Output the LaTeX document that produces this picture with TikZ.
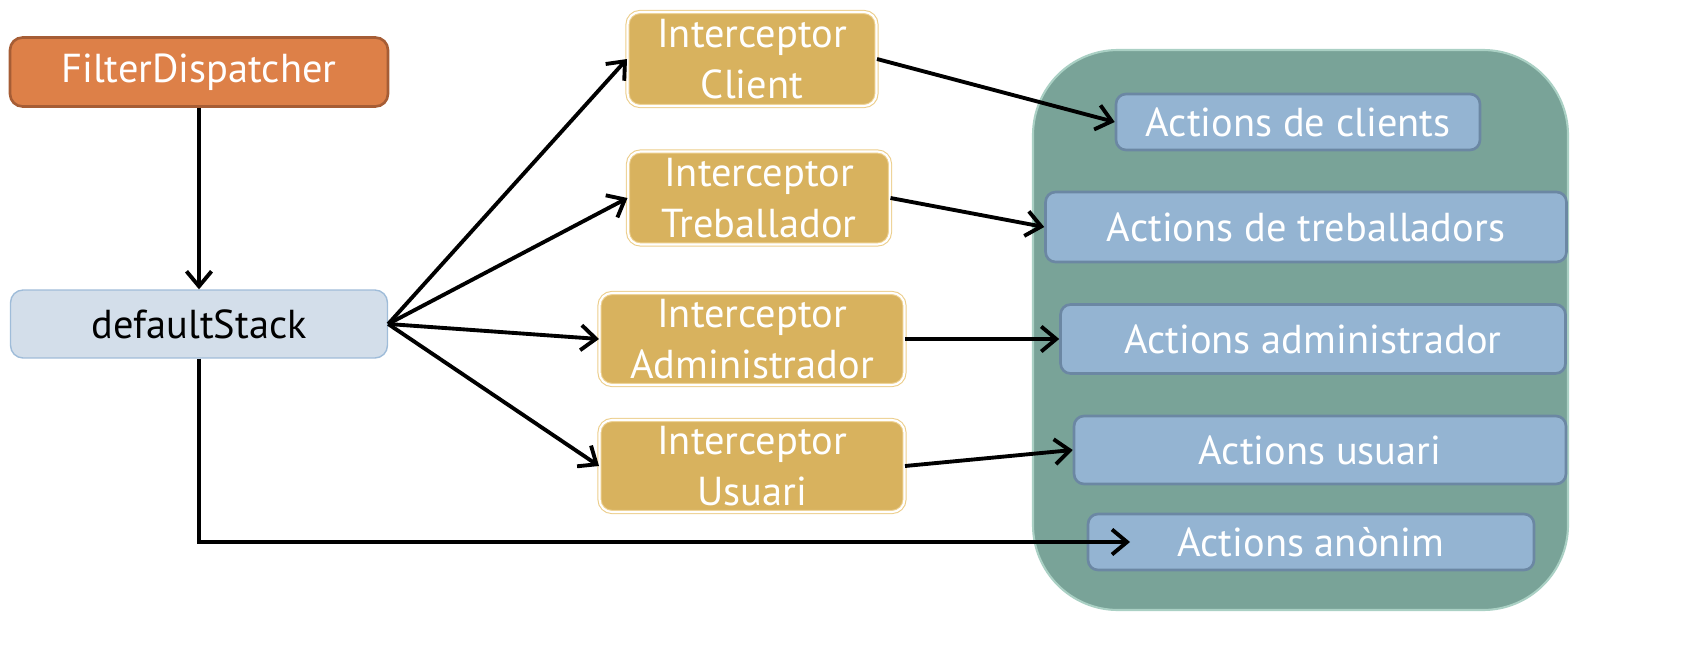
\documentclass[tikz,border=0pt]{standalone}
\usepackage{fontspec}
\setmainfont{PT Sans}
\usetikzlibrary{arrows.meta}
\definecolor{filterfill}{RGB}{221,128,72}
\definecolor{filterline}{RGB}{166,93,53}
\definecolor{stackfill}{RGB}{211,222,234}
\definecolor{stackline}{RGB}{159,188,217}
\definecolor{interfill}{RGB}{216,178,94}
\definecolor{interline}{RGB}{236,206,140}
\definecolor{actionfill}{RGB}{148,180,210}
\definecolor{actionline}{RGB}{107,135,163}
\definecolor{panelfill}{RGB}{121,163,152}
\definecolor{panelline}{RGB}{170,208,196}
\tikzset{
  filterbox/.style={rounded corners=0.25cm, fill=filterfill, draw=filterline, line width=1.5pt,
    text=white, inner sep=0pt},
  stackbox/.style={rounded corners=0.25cm, fill=stackfill, draw=stackline, line width=0.8pt,
    text=black, inner sep=0pt},
  interbox/.style={rounded corners=0.25cm, fill=interfill, draw=interline, double=white,
    double distance=1.2pt, line width=0.6pt, text=white, inner sep=0pt, align=center,
    font=\fontsize{23}{29}\selectfont},
  actionbox/.style={rounded corners=0.2cm, fill=actionfill, draw=actionline, line width=1.5pt,
    text=white, inner sep=0pt},
  flow/.style={-{Straight Barb[length=0.3cm,width=0.5cm]}, line width=2.2pt, black}
}
\begin{document}
\begin{tikzpicture}[x=0.02cm, y=-0.02cm, font=\fontsize{23}{28}\selectfont]
\useasboundingbox (0,0) rectangle (1695,659);
% container of the actions
\draw[fill=panelfill, draw=panelline, line width=1.2pt, rounded corners=1.7cm] (1033,50) rectangle (1568,610);
% filter and stack
\node[filterbox, minimum width=7.56cm, minimum height=1.38cm] (fd) at (199,72) {FilterDispatcher};
\node[stackbox, minimum width=7.54cm, minimum height=1.36cm] (ds) at (199,324) {defaultStack};
% interceptors
\node[interbox, minimum width=4.98cm, minimum height=1.88cm] (ic) at (752,59) {Interceptor\\Client};
\node[interbox, minimum width=5.24cm, minimum height=1.86cm] (it) at (759,198) {Interceptor\\Treballador};
\node[interbox, minimum width=6.1cm, minimum height=1.84cm] (ia) at (752,339) {Interceptor\\Administrador};
\node[interbox, minimum width=6.1cm, minimum height=1.84cm] (iu) at (752,466) {Interceptor\\Usuari};
% actions
\node[actionbox, minimum width=7.28cm, minimum height=1.12cm] (ac) at (1298,122) {Actions de clients};
\node[actionbox, minimum width=10.42cm, minimum height=1.4cm] (at) at (1306,227) {Actions de treballadors};
\node[actionbox, minimum width=10.1cm, minimum height=1.38cm] (aa) at (1313,339) {Actions administrador};
\node[actionbox, minimum width=9.84cm, minimum height=1.36cm] (au) at (1320,450) {Actions usuari};
\node[actionbox, minimum width=8.92cm, minimum height=1.12cm] (an) at (1311,542) {Actions anònim};
\coordinate (anend) at (1130,542);
% arrows
\draw[flow] (fd.south) -- (ds.north);
\draw[flow] (ds.east) -- (ic.west);
\draw[flow] (ds.east) -- (it.west);
\draw[flow] (ds.east) -- (ia.west);
\draw[flow] (ds.east) -- (iu.west);
\draw[flow] (ic.east) -- (ac.west);
\draw[flow] (it.east) -- (at.west);
\draw[flow] (ia.east) -- (aa.west);
\draw[flow] (iu.east) -- (au.west);
\draw[flow] (ds.south) |- (anend);
\end{tikzpicture}
\end{document}
